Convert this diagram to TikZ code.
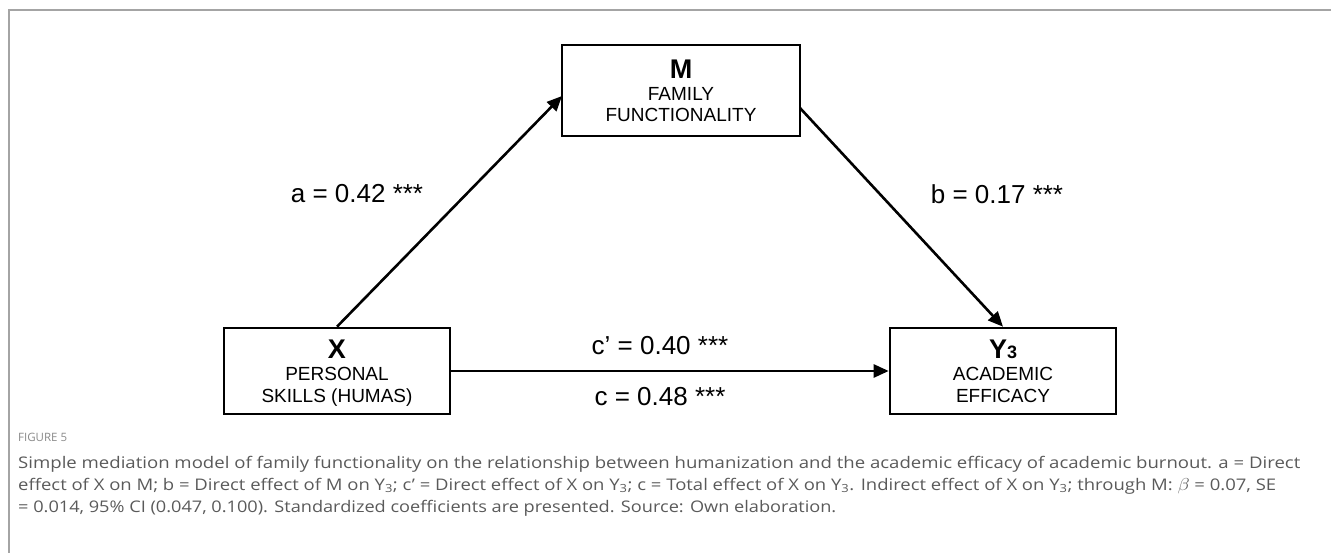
\documentclass[tikz,border=0pt]{standalone}
\usepackage{fontspec}
\setmainfont{Liberation Sans}
\newfontfamily\capfont{Open Sans}
\usetikzlibrary{arrows.meta}
\definecolor{frameg}{HTML}{A4A4A4}
\definecolor{capg}{HTML}{5A5A5A}
\definecolor{figg}{HTML}{8A8A8A}
\tikzset{
  box/.style={draw=black, line width=2.6pt, inner sep=0pt},
  head/.style={font=\fontsize{27}{27}\selectfont\bfseries, anchor=base, inner sep=0pt},
  sub/.style={font=\fontsize{19}{19}\selectfont, anchor=base, inner sep=0pt},
  coef/.style={font=\fontsize{26}{26}\selectfont, anchor=base, inner sep=0pt},
  conn/.style={line width=2.6pt, -{Triangle[length=15pt,width=13pt]}},
  capline/.style={font=\capfont\fontsize{16}{16}\selectfont, text=capg, anchor=base west, inner sep=0pt},
}
\begin{document}
\begin{tikzpicture}[x=1pt,y=-1pt]
\useasboundingbox (0,0) rectangle (1331,553);
\draw[frameg, line width=2pt] (1331,10) -- (9,10) -- (9,553);
% boxes
\node[box, minimum width=238pt, minimum height=91pt] (M) at (681,90.5) {};
\node[box, minimum width=226pt, minimum height=86pt] (X) at (337,371) {};
\node[box, minimum width=226pt, minimum height=86pt] (Y) at (1003,371) {};
% box texts
\node[head] (Mt) at (681,79) {M};
\node[sub] (Mt1) at (681,101) {FAMILY};
\node[sub] (Mt2) at (681,122) {FUNCTIONALITY};
\node[head] (Xt) at (337,359) {X};
\node[sub] (Xt1) at (337,381) {PERSONAL};
\node[sub] (Xt2) at (337,402) {SKILLS (HUMAS)};
\node[head] (Yt) at (1003,359) {Y\fontsize{18}{18}\selectfont 3};
\node[sub] (Yt1) at (1003,381) {ACADEMIC};
\node[sub] (Yt2) at (1003,402) {EFFICACY};
% connectors
\coordinate (aE) at (562,96);
\coordinate (bS) at (800,108);
\draw[conn] (X.north) -- (aE);
\draw[conn] (bS) -- (Y.north);
\draw[conn] (X.east) -- (Y.west);
% coefficients
\node[coef] (la) at (357,203) {a = 0.42 ***};
\node[coef] (lb) at (997,204) {b = 0.17 ***};
\node[coef] (lc1) at (660,355) {c’ = 0.40 ***};
\node[coef] (lc2) at (660,405) {c = 0.48 ***};
% caption
\node[capline, font=\capfont\fontsize{11.5}{11.5}\selectfont, text=figg] (fig) at (18,441) {FIGURE 5};
\node[capline] (c1) at (18,468) {\resizebox{1282pt}{\height}{Simple mediation model of family functionality on the relationship between humanization and the academic efficacy of academic burnout. a = Direct}};
\node[capline] (c2) at (18,490) {\resizebox{1258pt}{\height}{effect of X on M; b = Direct effect of M on Y\textsubscript{3}; c’ = Direct effect of X on Y\textsubscript{3}; c = Total effect of X on Y\textsubscript{3}. Indirect effect of X on Y\textsubscript{3}; through M: $\beta$ = 0.07, SE}};
\node[capline] (c3) at (18,512) {\resizebox{818pt}{\height}{= 0.014, 95\% CI (0.047, 0.100). Standardized coefficients are presented. Source: Own elaboration.}};
\end{tikzpicture}
\end{document}
